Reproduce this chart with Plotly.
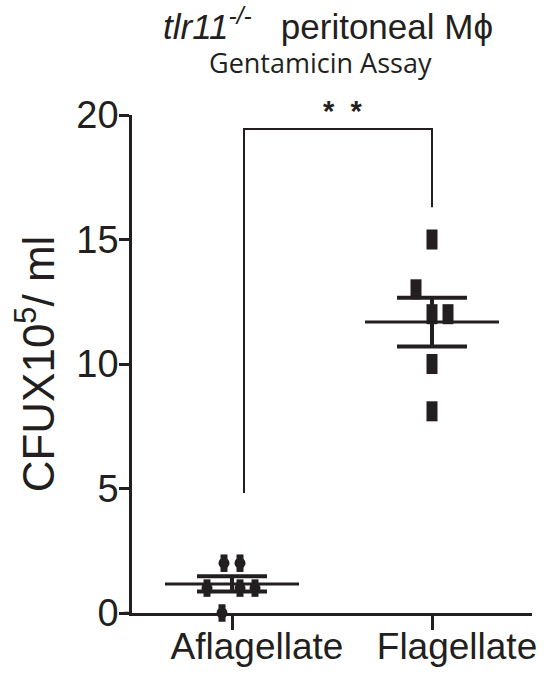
import numpy as np
import plotly.graph_objects as go

# ---- data ----
categories = ["Aflagellate", "Flagellate"]
afl_values = [2.0, 2.0, 1.0, 1.0, 1.0, 0.0]
afl_jitter = [-0.04, 0.04, -0.125, 0.04, 0.115, -0.05]
fla_values = [15.0, 13.0, 12.0, 12.0, 10.0, 8.1]
fla_jitter = [0.0, -0.08, 0.0, 0.08, 0.0, 0.0]
yticks = [0, 5, 10, 15, 20]
bracket_x = [0.06, 0.06, 1.0, 1.0]
bracket_y = [4.82, 19.44, 19.44, 16.3]
sig_label = "<b>*  *</b>"

INK = "#231f20"
FONT = "Liberation Sans, Arial, sans-serif"

def mean_sem(v):
    a = np.asarray(v, dtype=float)
    return a.mean(), a.std(ddof=1) / np.sqrt(len(a))

m0, s0 = mean_sem(afl_values)
m1, s1 = mean_sem(fla_values)
means = [m0, m1]
sems = [s0, s1]
cat_x = [0, 1]

fig = go.Figure()

# Aflagellate: ellipse-like markers (circle + vertical bar)
ax = [cat_x[0] + j for j in afl_jitter]
fig.add_trace(go.Scatter(x=ax, y=afl_values, mode="markers", cliponaxis=False,
                         marker=dict(symbol="circle", size=11, color=INK, line=dict(width=0)),
                         showlegend=False, hoverinfo="skip"))
fig.add_trace(go.Scatter(x=ax, y=afl_values, mode="markers", cliponaxis=False,
                         marker=dict(symbol="line-ns", size=12.5, color=INK, line=dict(width=7, color=INK)),
                         showlegend=False, hoverinfo="skip"))

# Flagellate: tall rectangles
fx = [cat_x[1] + j for j in fla_jitter]
fig.add_trace(go.Scatter(x=fx, y=fla_values, mode="markers", cliponaxis=False,
                         marker=dict(symbol="line-ns", size=14.3, color=INK, line=dict(width=11, color=INK)),
                         showlegend=False, hoverinfo="skip"))

# mean lines
fig.add_trace(go.Scatter(x=cat_x, y=means, mode="markers", cliponaxis=False,
                         marker=dict(size=1, color="rgba(0,0,0,0)"),
                         error_x=dict(type="data", array=[0.335, 0.335], visible=True,
                                      thickness=3, width=0, color=INK),
                         showlegend=False, hoverinfo="skip"))
# SEM bars
fig.add_trace(go.Scatter(x=cat_x, y=means, mode="markers", cliponaxis=False,
                         marker=dict(size=1, color="rgba(0,0,0,0)"),
                         error_y=dict(type="data", array=sems, visible=True,
                                      thickness=4, width=35, color=INK),
                         showlegend=False, hoverinfo="skip"))

# significance bracket
fig.add_trace(go.Scatter(x=bracket_x, y=bracket_y, mode="lines", cliponaxis=False,
                         line=dict(color=INK, width=2), showlegend=False, hoverinfo="skip"))

fig.add_annotation(x=0.55, y=19.9, yshift=6, text=sig_label, showarrow=False,
                   font=dict(family=FONT, size=29, color=INK), xanchor="center", yanchor="middle")

# titles
fig.add_annotation(xref="paper", yref="paper", x=0.49, y=1, yshift=91,
                   text="<i>tlr11</i><sup><i>-/-</i></sup>   peritoneal M\u03d5", showarrow=False,
                   font=dict(family=FONT, size=35, color=INK), xanchor="center", yanchor="middle")
fig.add_annotation(xref="paper", yref="paper", x=0.47, y=1, yshift=53,
                   text="Gentamicin Assay", showarrow=False,
                   font=dict(family="Open Sans, sans-serif", size=27, color=INK),
                   xanchor="center", yanchor="middle")

# x-axis overhang left of y-axis
fig.add_shape(type="line", xref="paper", yref="y", x0=-0.02, x1=0, y0=0, y1=0,
              line=dict(color=INK, width=2.5))

fig.update_layout(
    width=557, height=675,
    margin=dict(l=132, r=25, t=115, b=62),
    plot_bgcolor="white", paper_bgcolor="white",
    font=dict(family=FONT, color=INK),
    xaxis=dict(range=[-0.5, 1.5], tickvals=cat_x, ticktext=categories, automargin=False,
               showline=True, linewidth=2.5, linecolor=INK, ticks="outside",
               ticklen=14, tickwidth=2.5, tickcolor=INK, showgrid=False, zeroline=False,
               tickfont=dict(family=FONT, size=37, color=INK), ticklabelshift=25,
               ticklabelstandoff=-15),
    yaxis=dict(range=[0, 20], tickvals=yticks, showline=True, linewidth=2.5, linecolor=INK,
               automargin=False,
               ticks="outside", ticklen=10, tickwidth=2.5, tickcolor=INK,
               showgrid=False, zeroline=False, ticklabelstandoff=-7,
               tickfont=dict(family=FONT, size=38, color=INK),
               title=dict(text="CFUX10<sup>5</sup>/ ml", font=dict(family=FONT, size=44, color=INK),
                          standoff=8)),
)

fig.write_html("out.html")
